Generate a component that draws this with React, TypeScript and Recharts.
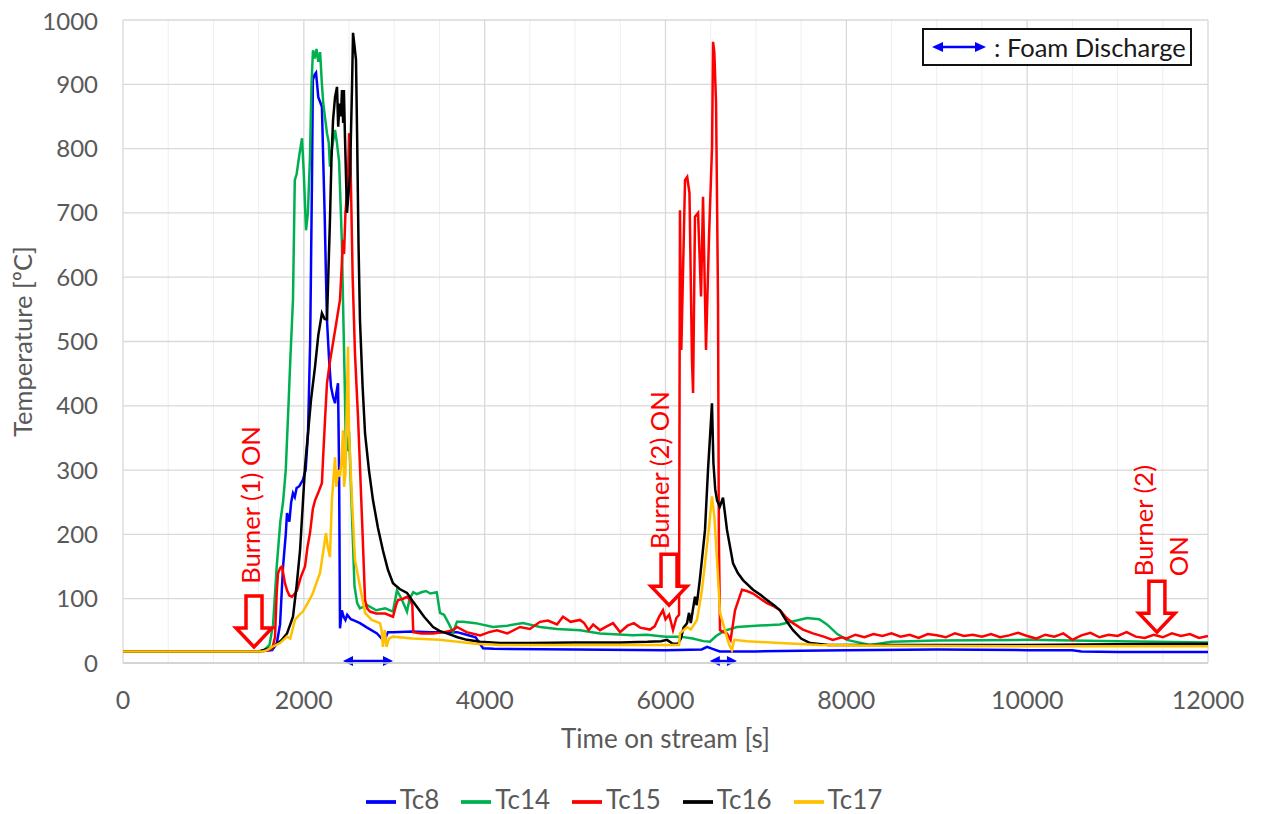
import React from 'react';
import {
  LineChart,
  Line,
  XAxis,
  YAxis,
  CartesianGrid,
  Legend,
  Label,
  ReferenceDot,
  ReferenceLine,
} from 'recharts';

// [time s, temperature degC]
const tc8: [number, number][] = [
  [0, 18], [1500, 18], [1650, 20], [1700, 30], [1737, 60], [1770, 150], [1800, 200], [1814, 233],
  [1840, 220], [1860, 250], [1880, 264], [1900, 258], [1920, 272], [1950, 275], [1990, 285],
  [2020, 300], [2046, 357], [2070, 500], [2090, 750], [2100, 907], [2120, 915], [2135, 918],
  [2160, 880], [2200, 865], [2215, 780], [2230, 700], [2245, 600], [2256, 533], [2280, 470],
  [2300, 430], [2323, 414], [2345, 404], [2360, 420], [2378, 435], [2390, 300], [2400, 54],
  [2420, 82], [2440, 72], [2460, 67], [2480, 75], [2520, 68], [2560, 66], [2621, 62], [2700, 55],
  [2809, 46], [2875, 36], [2900, 38], [2930, 48], [2986, 48], [3200, 49], [3400, 48], [3694, 48],
  [3800, 44], [3900, 40], [3982, 23], [4100, 22], [5000, 21], [6000, 20], [6400, 21], [6460, 25],
  [6520, 22], [6600, 18], [7000, 18], [7500, 19], [8000, 20], [9000, 21], [10000, 20], [10500, 20],
  [10600, 18], [11000, 17], [12000, 17],
];

const tc14: [number, number][] = [
  [0, 18], [1500, 18], [1560, 20], [1620, 28], [1660, 60], [1700, 150], [1740, 220], [1770, 250],
  [1800, 300], [1830, 400], [1850, 470], [1880, 565], [1900, 751], [1920, 760], [1950, 790],
  [1980, 816], [2000, 760], [2024, 673], [2045, 700], [2068, 787], [2085, 900], [2101, 953],
  [2120, 940], [2140, 955], [2160, 935], [2180, 950], [2200, 900], [2215, 870], [2256, 824],
  [2275, 810], [2289, 772], [2310, 800], [2345, 829], [2365, 810], [2390, 780], [2420, 658],
  [2433, 565], [2450, 450], [2465, 336], [2480, 330], [2500, 360], [2520, 280], [2540, 200],
  [2560, 120], [2590, 93], [2620, 85], [2700, 90], [2800, 82], [2900, 85], [2986, 80], [3030, 113],
  [3080, 100], [3141, 80], [3170, 100], [3210, 110], [3250, 107], [3300, 110], [3350, 112],
  [3400, 108], [3470, 110], [3506, 78], [3550, 75], [3600, 62], [3650, 48], [3694, 64], [3761, 64],
  [3900, 62], [4092, 56], [4250, 58], [4424, 62], [4612, 56], [4800, 53], [5055, 51], [5276, 46],
  [5640, 43], [5795, 44], [6000, 41], [6160, 41], [6300, 38], [6420, 34], [6492, 33], [6560, 42],
  [6650, 50], [6790, 56], [7000, 58], [7266, 60], [7450, 66], [7565, 70], [7700, 68], [7786, 60],
  [7900, 45], [8007, 36], [8262, 28], [8500, 33], [9000, 35], [10000, 36], [11000, 34], [12000, 32],
];

const tc15: [number, number][] = [
  [0, 18], [1500, 18], [1600, 20], [1650, 22], [1681, 40], [1700, 110], [1715, 140], [1740, 148],
  [1759, 150], [1790, 125], [1814, 113], [1840, 105], [1869, 103], [1900, 108], [1924, 113],
  [1970, 135], [2013, 150], [2040, 180], [2068, 202], [2100, 240], [2124, 253], [2160, 265],
  [2200, 280], [2212, 316], [2235, 380], [2256, 435], [2290, 470], [2323, 498], [2360, 530],
  [2400, 565], [2420, 620], [2433, 658], [2445, 636], [2460, 700], [2488, 746], [2500, 824],
  [2515, 790], [2540, 600], [2566, 480], [2600, 380], [2621, 305], [2650, 200], [2677, 98],
  [2700, 85], [2732, 80], [2800, 77], [2900, 77], [2986, 72], [3020, 90], [3042, 98], [3100, 100],
  [3141, 103], [3180, 98], [3200, 90], [3210, 48], [3300, 46], [3430, 46], [3550, 48], [3650, 51],
  [3694, 56], [3800, 48], [3950, 43], [4050, 48], [4136, 51], [4250, 46], [4391, 56], [4500, 53],
  [4612, 64], [4700, 66], [4800, 60], [4866, 72], [4950, 64], [5055, 67], [5100, 62], [5150, 51],
  [5200, 60], [5276, 51], [5350, 57], [5420, 62], [5497, 48], [5580, 58], [5650, 62], [5720, 55],
  [5829, 52], [5880, 57], [5930, 72], [5972, 82], [6000, 68], [6040, 75], [6083, 51], [6120, 70],
  [6150, 75], [6160, 704], [6175, 487], [6216, 751], [6240, 756], [6265, 731], [6293, 470],
  [6305, 420], [6326, 694], [6360, 700], [6393, 570], [6415, 725], [6448, 487], [6481, 663],
  [6515, 803], [6526, 966], [6540, 950], [6559, 871], [6570, 720], [6581, 560], [6590, 200],
  [6603, 51], [6640, 48], [6680, 46], [6720, 36], [6769, 82], [6846, 114], [6900, 112], [6968, 108],
  [7050, 100], [7122, 93], [7200, 88], [7266, 82], [7340, 70], [7410, 62], [7520, 52], [7631, 46],
  [7750, 41], [7850, 36], [7950, 40], [8000, 38], [8100, 44], [8200, 40], [8300, 45], [8400, 42],
  [8500, 46], [8600, 41], [8700, 44], [8800, 39], [8900, 45], [9000, 43], [9100, 40], [9200, 46],
  [9300, 42], [9400, 44], [9500, 41], [9600, 45], [9700, 40], [9800, 43], [9900, 47], [10000, 42],
  [10100, 38], [10200, 44], [10300, 41], [10400, 46], [10500, 36], [10600, 43], [10700, 47],
  [10800, 40], [10900, 44], [11000, 42], [11100, 48], [11200, 41], [11300, 39], [11400, 44],
  [11500, 40], [11600, 46], [11700, 42], [11800, 45], [11900, 39], [12000, 42],
];

const tc16: [number, number][] = [
  [0, 18], [1500, 18], [1550, 20], [1650, 24], [1750, 35], [1814, 46], [1850, 60], [1880, 72],
  [1920, 120], [1958, 175], [1990, 250], [2013, 305], [2046, 357], [2080, 410], [2124, 461],
  [2160, 510], [2200, 544], [2230, 535], [2256, 534], [2270, 600], [2289, 689], [2305, 780],
  [2323, 844], [2345, 880], [2367, 896], [2380, 834], [2395, 870], [2410, 850], [2422, 891],
  [2435, 840], [2443, 891], [2455, 818], [2477, 700], [2495, 731], [2511, 760], [2533, 896],
  [2544, 980], [2560, 960], [2577, 938], [2590, 813], [2605, 650], [2621, 533], [2650, 430],
  [2677, 357], [2720, 300], [2765, 253], [2820, 210], [2875, 175], [2930, 145], [2986, 124],
  [3060, 115], [3141, 109], [3200, 97], [3252, 87], [3330, 72], [3430, 56], [3500, 50], [3583, 46],
  [3700, 40], [3805, 36], [3950, 33], [4170, 31], [4500, 31], [5000, 32], [5500, 32], [5800, 33],
  [5950, 34], [6017, 36], [6080, 30], [6140, 30], [6170, 38], [6200, 55], [6238, 62], [6260, 78],
  [6280, 62], [6300, 80], [6326, 103], [6345, 90], [6380, 130], [6410, 170], [6437, 207],
  [6470, 300], [6500, 370], [6514, 404], [6530, 311], [6550, 270], [6570, 253], [6600, 243],
  [6636, 257], [6680, 207], [6747, 155], [6800, 140], [6857, 129], [6968, 114], [7050, 106],
  [7122, 98], [7200, 90], [7266, 82], [7340, 65], [7410, 51], [7500, 38], [7598, 31], [7800, 28],
  [8000, 28], [9000, 28], [10000, 28], [11000, 29], [12000, 30],
];

const tc17: [number, number][] = [
  [0, 18], [1550, 18], [1592, 20], [1650, 25], [1737, 31], [1814, 41], [1850, 38], [1902, 67],
  [1950, 75], [1990, 80], [2030, 90], [2070, 100], [2101, 109], [2140, 125], [2179, 140],
  [2212, 171], [2245, 202], [2265, 180], [2289, 165], [2310, 253], [2345, 320], [2360, 274],
  [2378, 300], [2400, 290], [2420, 320], [2433, 362], [2445, 274], [2460, 295], [2488, 492],
  [2500, 357], [2533, 253], [2566, 160], [2621, 119], [2677, 78], [2750, 67], [2842, 62],
  [2860, 51], [2875, 25], [2895, 51], [2915, 25], [2940, 38], [2986, 41], [3200, 38], [3500, 36],
  [3700, 33], [3900, 30], [4170, 28], [5000, 28], [5500, 28], [6000, 28], [6150, 28], [6160, 46],
  [6238, 56], [6280, 52], [6348, 67], [6400, 110], [6437, 155], [6480, 210], [6514, 259],
  [6540, 228], [6570, 160], [6603, 78], [6658, 51], [6700, 30], [6735, 20], [6760, 36], [6900, 34],
  [7266, 31], [7700, 28], [8500, 27], [10000, 26], [12000, 26],
];

const seriesNames = ['Tc8', 'Tc14', 'Tc15', 'Tc16', 'Tc17'];
const seriesData = [tc8, tc14, tc15, tc16, tc17];
const seriesColors = ['#0000ff', '#00b050', '#ff0000', '#000000', '#ffc000'];

const xTicks = [0, 2000, 4000, 6000, 8000, 10000, 12000];
const yTicks = [0, 100, 200, 300, 400, 500, 600, 700, 800, 900, 1000];
const xMinor = [500, 1000, 1500, 2500, 3000, 3500, 4500, 5000, 5500, 6500, 7000, 7500, 8500, 9000, 9500, 10500, 11000, 11500];

// burner switch-on markers: arrow tip at [time, temp]
const burnerTimes = [1449, 6039, 11435];
const burnerTemps = [25, 90, 48];
const burnerLabels = [['Burner (1) ON'], ['Burner (2) ON'], ['Burner (2)', 'ON']];

// foam discharge intervals [start, end] s
const foamIntervals: [number, number][] = [[2433, 2986], [6490, 6790]];

const FONT = 'Lato, "Open Sans", sans-serif';
const GREY = '#595959';

const BurnerMark = ({ cx, cy, lines, idx }: any) => {
  const shaftW = 8;
  const headW = 18;
  const headH = 19;
  const shaftH = 32;
  const path = `M ${cx} ${cy} L ${cx - headW} ${cy - headH} L ${cx - shaftW} ${cy - headH} L ${cx - shaftW} ${cy - headH - shaftH} L ${cx + shaftW} ${cy - headH - shaftH} L ${cx + shaftW} ${cy - headH} L ${cx + headW} ${cy - headH} Z`;
  const txt = (s: string, tx: number, ty: number, anchor: string) => (
    <text
      key={s}
      x={tx}
      y={ty}
      transform={`rotate(-90 ${tx} ${ty})`}
      textAnchor={anchor}
      dominantBaseline="central"
      fill="#ff0000"
      fontSize={25.5}
      fontFamily={FONT}
    >
      {s}
    </text>
  );
  return (
    <g>
      <path d={path} fill="#fff" stroke="#ff0000" strokeWidth={3.5} strokeLinejoin="miter" />
      {lines.length === 1
        ? txt(lines[0], cx + (idx === 0 ? -4 : -10), cy - (idx === 0 ? 142 : 135), 'middle')
        : lines.map((s: string, i: number) => txt(s, cx + (i === 0 ? -14 : 21), cy - 56, 'start'))}
    </g>
  );
};

const DoubleArrow = (p: any) => {
  const { x1, y1, x2 } = p;
  const y = y1;
  const hl = 10;
  const hh = 5;
  return (
    <g>
      <line x1={x1 + 4} y1={y} x2={x2 - 4} y2={y} stroke="#0000ff" strokeWidth={2.5} />
      <path d={`M ${x1} ${y} L ${x1 + hl} ${y - hh} L ${x1 + hl} ${y + hh} Z`} fill="#0000ff" />
      <path d={`M ${x2} ${y} L ${x2 - hl} ${y - hh} L ${x2 - hl} ${y + hh} Z`} fill="#0000ff" />
    </g>
  );
};

export default function App() {
  return (
    <div style={{ position: 'relative', width: 1249, height: 806, fontFamily: FONT }}>
      <LineChart
        width={1249}
        height={806}
        margin={{ top: 12, right: 49, left: 0, bottom: 0 }}
        style={{ overflow: 'visible' }}
      >
        <CartesianGrid
          stroke="#eeeeee"
          strokeWidth={1}
          horizontal={false}
          verticalValues={xMinor}
        />
        <CartesianGrid
          stroke="#d9d9d9"
          strokeWidth={1.3}
          horizontalValues={yTicks}
          verticalValues={xTicks}
        />
        <XAxis
          dataKey="t"
          type="number"
          domain={[0, 12000]}
          ticks={xTicks}
          tickSize={0}
          tickMargin={28}
          axisLine={{ stroke: '#cfcfcf', strokeWidth: 1.5 }}
          tickLine={false}
          height={121}
          tick={{ fill: GREY, fontSize: 25, fontFamily: FONT }}
          allowDuplicatedCategory={false}
        >
          <Label
            value="Time on stream [s]"
            position="insideBottom"
            offset={36}
            style={{ fill: GREY, fontSize: 26, fontFamily: FONT }}
          />
        </XAxis>
        <YAxis
          type="number"
          domain={[0, 1000]}
          ticks={yTicks}
          tickSize={0}
          tickMargin={25}
          axisLine={false}
          tickLine={false}
          width={115}
          tick={{ fill: GREY, fontSize: 24, fontFamily: FONT }}
        >
          <Label
            value="Temperature [ºC]"
            angle={-90}
            position="insideLeft"
            offset={15}
            style={{ fill: GREY, fontSize: 25.5, fontFamily: FONT, textAnchor: 'middle' }}
          />
        </YAxis>
        {seriesData.map((pts, i) => (
          <Line
            key={seriesNames[i]}
            data={pts.map(([t, v]) => ({ t, v }))}
            dataKey="v"
            name={seriesNames[i]}
            stroke={seriesColors[i]}
            strokeWidth={2.5}
            dot={false}
            activeDot={false}
            isAnimationActive={false}
          />
        ))}
        {foamIntervals.map(([a, b]) => (
          <ReferenceLine
            key={a}
            segment={[{ x: a, y: 3 }, { x: b, y: 3 }]}
            ifOverflow="visible"
            shape={(p: any) => <DoubleArrow {...p} />}
          />
        ))}
        {burnerTimes.map((t, i) => (
          <ReferenceDot
            key={t}
            x={t}
            y={burnerTemps[i]}
            r={1}
            ifOverflow="visible"
            shape={(p: any) => <BurnerMark cx={p.cx} cy={p.cy} lines={burnerLabels[i]} idx={i} />}
          />
        ))}
        <Legend
          verticalAlign="bottom"
          align="center"
          iconType="plainline"
          iconSize={30}
          itemSorter={(item: any) => seriesNames.indexOf(item.value)}
          wrapperStyle={{ left: 27, fontSize: 26, fontFamily: FONT, height: 30, lineHeight: '30px' }}
          formatter={(v: string) => <span style={{ color: GREY, marginRight: 12 }}>{v}</span>}
        />
      </LineChart>
      <div
        style={{
          position: 'absolute',
          left: 914,
          top: 20,
          width: 266,
          height: 34,
          border: '2px solid #111',
          background: '#fff',
          display: 'flex',
          alignItems: 'center',
          boxSizing: 'content-box',
        }}
      >
        <svg width={60} height={20} style={{ marginLeft: 8 }}>
          <line x1={6} y1={10} x2={48} y2={10} stroke="#0000ff" strokeWidth={2.5} />
          <path d="M 0 10 L 11 5 L 11 15 Z" fill="#0000ff" />
          <path d="M 54 10 L 43 5 L 43 15 Z" fill="#0000ff" />
        </svg>
        <span style={{ fontSize: 25.5, color: '#1a1a1a', marginLeft: 2, whiteSpace: 'nowrap' }}>: Foam Discharge</span>
      </div>
    </div>
  );
}
